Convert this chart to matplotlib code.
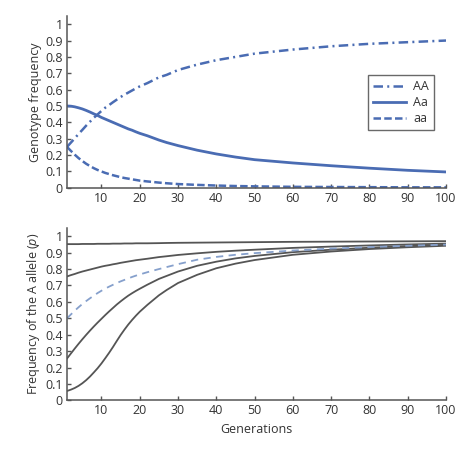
import numpy as np
import matplotlib
matplotlib.use("Agg")
import matplotlib.pyplot as plt

plt.rcParams['font.family'] = ['Open Sans', 'DejaVu Sans']
plt.rcParams['mathtext.fontset'] = 'custom'
plt.rcParams['mathtext.rm'] = 'Open Sans'
plt.rcParams['mathtext.it'] = 'Open Sans:italic'

# generations
gens = [1, 2, 3, 4, 5, 6, 7, 8, 9, 10, 11, 12, 13, 14, 15, 16, 17, 18, 19, 20,
        22, 25, 27, 30, 35, 40, 45, 50, 60, 70, 80, 90, 100]

# top panel: genotype frequencies
freq_AA = [0.25, 0.276, 0.302, 0.329, 0.354, 0.38, 0.404, 0.428, 0.449, 0.47,
           0.49, 0.506, 0.523, 0.539, 0.555, 0.569, 0.582, 0.595, 0.608, 0.62,
           0.64, 0.675, 0.69, 0.72, 0.753, 0.78, 0.80, 0.82, 0.845, 0.865, 0.88, 0.89, 0.90]
freq_Aa = [0.50, 0.499, 0.495, 0.489, 0.482, 0.473, 0.463, 0.452, 0.442, 0.43,
           0.42, 0.41, 0.40, 0.39, 0.38, 0.37, 0.36, 0.352, 0.342, 0.333,
           0.318, 0.292, 0.277, 0.258, 0.23, 0.207, 0.188, 0.172, 0.152, 0.135, 0.12, 0.107, 0.097]
freq_aa = [0.25, 0.226, 0.203, 0.182, 0.164, 0.147, 0.133, 0.12, 0.109, 0.10,
           0.091, 0.084, 0.077, 0.071, 0.065, 0.06, 0.056, 0.052, 0.048, 0.044,
           0.039, 0.032, 0.028, 0.023, 0.018, 0.014, 0.011, 0.009, 0.006, 0.005, 0.004, 0.003, 0.003]

# bottom panel: allele frequency p for different starting values
p_95 = [0.952, 0.952, 0.952, 0.952, 0.953, 0.953, 0.953, 0.953, 0.954, 0.954,
        0.954, 0.954, 0.955, 0.955, 0.955, 0.956, 0.956, 0.956, 0.957, 0.957,
        0.957, 0.958, 0.959, 0.96, 0.961, 0.962, 0.963, 0.964, 0.966, 0.967, 0.968, 0.969, 0.97]
p_75 = [0.755, 0.763, 0.77, 0.778, 0.785, 0.791, 0.797, 0.803, 0.809, 0.815,
        0.82, 0.824, 0.829, 0.833, 0.838, 0.842, 0.846, 0.85, 0.854, 0.857,
        0.863, 0.873, 0.878, 0.886, 0.896, 0.905, 0.912, 0.918, 0.929, 0.937, 0.944, 0.95, 0.955]
p_50 = [0.50, 0.523, 0.546, 0.567, 0.587, 0.605, 0.622, 0.638, 0.654, 0.668,
        0.681, 0.693, 0.704, 0.715, 0.725, 0.734, 0.743, 0.752, 0.76, 0.767,
        0.781, 0.80, 0.812, 0.83, 0.857, 0.874, 0.887, 0.897, 0.913, 0.925, 0.934, 0.942, 0.949]
p_25 = [0.255, 0.285, 0.315, 0.344, 0.372, 0.399, 0.425, 0.45, 0.474, 0.497,
        0.52, 0.542, 0.563, 0.584, 0.603, 0.621, 0.638, 0.653, 0.667, 0.68,
        0.705, 0.74, 0.758, 0.785, 0.82, 0.845, 0.865, 0.88, 0.903, 0.918, 0.93, 0.94, 0.947]
p_05 = [0.057, 0.065, 0.075, 0.088, 0.104, 0.123, 0.145, 0.17, 0.196, 0.225,
        0.257, 0.29, 0.325, 0.362, 0.398, 0.431, 0.462, 0.49, 0.516, 0.54,
        0.582, 0.64, 0.672, 0.715, 0.765, 0.805, 0.833, 0.855, 0.887, 0.907, 0.922, 0.933, 0.942]

blue = '#4a6cb3'
light_blue = '#86a0cc'
gray = '#555555'
txt = '#333333'

fig = plt.figure(figsize=(4.72, 4.57), dpi=100)
ax1 = fig.add_axes([0.142, 0.589, 0.803, 0.376])
ax2 = fig.add_axes([0.142, 0.124, 0.803, 0.377])

ax1.plot(gens, freq_AA, color=blue, lw=1.8, linestyle=(0, (3.8, 1.7, 0.8, 1.7)), label='AA')
ax1.plot(gens, freq_Aa, color=blue, lw=2.0, label='Aa')
ax1.plot(gens, freq_aa, color=blue, lw=1.8, linestyle=(0, (3.0, 1.3)), label='aa')

for p in [p_95, p_75, p_25, p_05]:
    ax2.plot(gens, p, color=gray, lw=1.3)
ax2.plot(gens, p_50, color=light_blue, lw=1.3, linestyle=(0, (4.0, 3.0)))

for ax in (ax1, ax2):
    ax.set_xlim(1, 100)
    ax.set_ylim(0, 1.05)
    ax.set_xticks(range(10, 101, 10))
    ax.set_yticks(np.arange(0, 1.01, 0.1))
    ax.set_yticklabels(['0', '0.1', '0.2', '0.3', '0.4', '0.5', '0.6', '0.7', '0.8', '0.9', '1'])
    for s in ['top', 'right']:
        ax.spines[s].set_visible(False)
    for s in ['left', 'bottom']:
        ax.spines[s].set_color(gray)
        ax.spines[s].set_linewidth(1.1)
    ax.tick_params(direction='in', length=3, width=1, color=gray,
                   labelsize=9, labelcolor=txt, pad=3)

ax1.set_ylabel('Genotype frequency', fontsize=9, color=txt, labelpad=2)
ax2.set_ylabel('Frequency of the A allele ($\\it{p}$)', fontsize=9, color=txt, labelpad=2)
ax2.set_xlabel('Generations', fontsize=9, color=txt, labelpad=4)

leg = ax1.legend(loc='upper right', bbox_to_anchor=(0.968, 0.657), borderaxespad=0,
                 fontsize=9, frameon=True, fancybox=False, handlelength=2.6,
                 labelspacing=0.25, handletextpad=0.6, borderpad=0.4)
leg.get_frame().set_edgecolor('#444444')
leg.get_frame().set_linewidth(1.0)
for t in leg.get_texts():
    t.set_color(txt)

fig.savefig('out.png', dpi=100)
